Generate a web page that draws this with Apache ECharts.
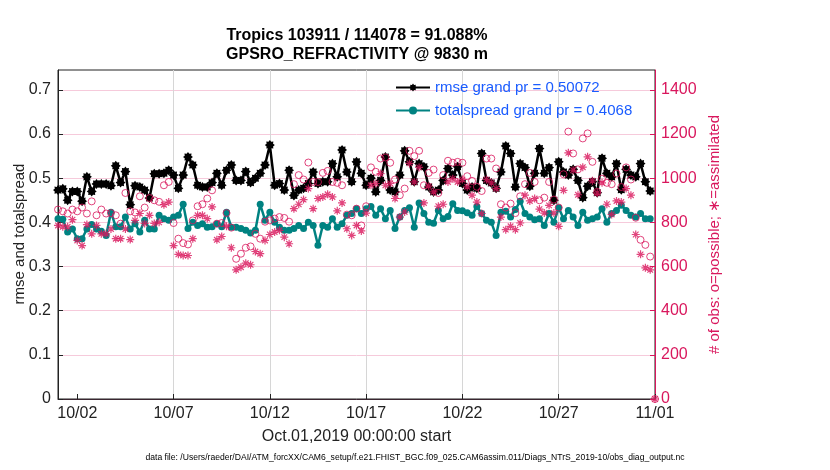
<!DOCTYPE html>
<html>
<head>
    <meta charset="utf-8">
    <script src="https://cdn.jsdelivr.net/npm/echarts@6/dist/echarts.min.js"></script>
    <style type="text/css">
        html, body { margin: 0; padding: 0; background: #fff; }
    </style>
</head>
<body>
    <div id="main" style="width: 830px;height:470px;"></div>
    <script type="text/javascript">
        // 6-hourly bins, Oct 1 00Z .. Nov 1 00Z
        var tickLabels = ['10/02', '10/07', '10/12', '10/17', '10/22', '10/27', '11/01'];

        var rmse = [
            0.473,0.476,0.450,0.470,0.470,0.448,0.503,0.470,0.487,0.487,
            0.487,0.483,0.528,0.490,0.515,0.440,0.483,0.480,0.473,0.455,
            0.510,0.510,0.511,0.518,0.507,0.477,0.507,0.548,0.530,0.484,
            0.480,0.480,0.490,0.511,0.484,0.518,0.530,0.495,0.495,0.515,
            0.490,0.500,0.511,0.530,0.575,0.484,0.488,0.473,0.518,0.461,
            0.473,0.477,0.488,0.514,0.488,0.492,0.492,0.533,0.503,0.564,
            0.514,0.492,0.537,0.511,0.484,0.500,0.469,0.495,0.548,0.473,
            0.469,0.507,0.562,0.537,0.492,0.533,0.526,0.480,0.469,0.473,
            0.495,0.522,0.507,0.526,0.488,0.473,0.480,0.477,0.556,0.495,
            0.489,0.477,0.514,0.573,0.556,0.480,0.533,0.524,0.482,0.511,
            0.567,0.511,0.524,0.450,0.537,0.514,0.507,0.520,0.495,0.456,
            0.482,0.492,0.467,0.545,0.511,0.503,0.533,0.474,0.520,0.507,
            0.503,0.533,0.492,0.471,null];

        var spread = [
            0.408,0.407,0.378,0.385,0.363,0.363,0.385,0.395,0.385,0.380,
            0.370,0.423,0.390,0.390,0.412,0.385,0.397,0.378,0.405,0.385,
            0.385,0.416,0.408,0.405,0.412,0.416,0.441,0.386,0.400,0.393,
            0.397,0.389,0.390,0.397,0.390,0.423,0.389,0.389,0.386,0.382,
            0.376,0.382,0.441,0.405,0.423,0.400,0.389,0.382,0.382,0.386,
            0.393,0.386,0.400,0.393,0.348,0.393,0.389,0.408,0.389,0.397,
            0.416,0.420,0.431,0.420,0.431,0.436,0.416,0.431,0.408,0.427,
            0.386,0.412,0.427,0.433,0.389,0.444,0.420,0.400,0.398,0.427,
            0.408,0.413,0.442,0.427,0.426,0.422,0.416,0.436,0.420,0.405,
            0.400,0.370,0.423,0.425,0.412,0.429,0.448,0.420,0.412,0.406,
            0.408,0.393,0.420,0.400,0.433,0.408,0.427,0.412,0.393,0.423,
            0.405,0.408,0.412,0.431,0.400,0.420,0.427,0.439,0.427,0.416,
            0.412,0.420,0.408,0.408,null];

        var possible = [
            858,850,840,858,850,867,840,895,832,858,
            840,842,832,794,933,850,845,918,867,910,
            900,893,968,983,797,726,706,700,809,873,
            882,908,945,794,797,842,776,635,658,685,
            691,748,726,803,809,817,824,820,803,973,
            1014,994,1071,983,983,1024,1033,983,979,968,
            835,832,862,786,873,1049,1029,1089,1094,1070,
            994,923,953,1124,1100,1124,968,1024,1039,933,
            1014,1079,1070,1074,1070,1009,988,961,942,1089,
            1089,1044,882,867,885,842,918,973,1024,983,
            900,912,983,903,867,1018,1211,1112,1040,1180,
            1203,1074,938,998,979,973,1021,960,1049,994,
            821,721,698,645,0];

        var assimilated = [
            786,780,780,812,718,695,790,748,786,748,
            748,770,726,726,770,722,809,840,795,832,
            795,800,880,892,695,655,650,650,726,832,
            832,817,870,721,736,782,685,585,597,615,
            608,668,658,718,745,756,764,733,703,862,
            882,903,953,862,908,915,927,915,852,888,
            771,741,786,761,842,968,976,1021,968,976,
            908,824,847,1067,983,1049,888,964,938,873,
            882,983,998,983,994,961,923,892,840,994,
            979,953,824,767,782,767,797,923,897,908,
            860,842,877,842,782,945,1115,1036,925,1050,
            1097,988,933,979,882,836,897,892,953,923,
            745,655,594,585,0];

        // category labels 'MM/DD HH'
        var times = [];
        for (var i = 0; i < rmse.length; i++) {
            var d = new Date(Date.UTC(2019, 9, 1) + i * 6 * 3600 * 1000);
            var mm = ('0' + (d.getUTCMonth() + 1)).slice(-2);
            var dd = ('0' + d.getUTCDate()).slice(-2);
            var hh = ('0' + d.getUTCHours()).slice(-2);
            times.push(mm + '/' + dd + ' ' + hh);
        }
        function isTick(idx, val) {
            return val.slice(6) === '00' && tickLabels.indexOf(val.slice(0, 5)) >= 0;
        }

        // fat 8-point star like matlab '*' with thick line
        var star = 'path://';
        for (var k = 0; k < 16; k++) {
            var a = k * Math.PI / 8 - Math.PI / 2;
            var r = (k % 2 === 0) ? 10 : 7;
            star += (k === 0 ? 'M' : 'L') + (10 + r * Math.cos(a)).toFixed(2) + ',' + (10 + r * Math.sin(a)).toFixed(2);
        }
        star += 'Z';
        var asterisk = 'path://M5,0L5,10M0,5L10,5M1.5,1.5L8.5,8.5M1.5,8.5L8.5,1.5';

        var red = '#d9175d';
        var font = 'Liberation Sans';
        var myChart = echarts.init(document.getElementById('main'));
        var option = {
            backgroundColor: '#fff',
            animation: false,
            textStyle: { fontFamily: font },
            grid: {
                left: 58, right: 175, top: 70, bottom: 71,
                outerBoundsMode: 'none', containLabel: false,
                show: true, borderColor: '#222', borderWidth: 1, backgroundColor: 'transparent'
            },
            legend: {
                orient: 'vertical',
                left: 395,
                top: 80,
                itemWidth: 34,
                itemHeight: 10,
                itemGap: 8,
                padding: 0,
                textStyle: { color: '#1a5cff', fontSize: 15, fontFamily: font },
                data: ['rmse grand pr = 0.50072', 'totalspread grand pr = 0.4068']
            },
            xAxis: {
                type: 'category',
                data: times,
                boundaryGap: false,
                name: 'Oct.01,2019 00:00:00 start',
                nameLocation: 'middle',
                nameGap: 30,
                nameTextStyle: { fontSize: 16, color: '#222', fontFamily: font },
                axisLine: { lineStyle: { color: '#3a2630', width: 1 } },
                axisTick: { inside: true, length: 5, interval: isTick, lineStyle: { color: '#222' } },
                axisLabel: {
                    interval: isTick, color: '#222', fontSize: 16, margin: 7,
                    formatter: function (v) { return v.slice(0, 5); }
                },
                splitLine: { show: true, interval: isTick, showMinLine: false, showMaxLine: false, lineStyle: { color: '#d6d6d6', width: 1 } }
            },
            yAxis: [{
                type: 'value',
                min: 0, max: 0.745, interval: 0.1,
                position: 'left',
                axisLine: { show: true, lineStyle: { color: '#222' } },
                axisTick: { show: true, inside: true, length: 5, lineStyle: { color: '#222' } },
                axisLabel: {
                    color: '#222', fontSize: 16, margin: 7, showMaxLabel: false,
                    formatter: function (v) { return v === 0 ? '0' : v.toFixed(1); }
                },
                splitLine: { show: false }
            }, {
                type: 'value',
                min: 0, max: 1490, interval: 200,
                position: 'right',
                name: '# of obs: o=possible; \u2217=assimilated',
                nameLocation: 'middle',
                nameRotate: 90,
                nameGap: 41,
                nameTextStyle: { fontSize: 15, color: red, fontFamily: font },
                axisLine: { show: true, lineStyle: { color: red } },
                axisTick: { show: true, inside: true, length: 5, lineStyle: { color: red } },
                axisLabel: {
                    color: red, fontSize: 16, margin: 6, showMaxLabel: false,
                    formatter: function (v) { return String(v); }
                },
                splitLine: { show: true, showMinLine: false, showMaxLine: false, lineStyle: { color: '#f6cadb', width: 1 } }
            }],
            series: [{
                name: 'rmse grand pr = 0.50072',
                type: 'line',
                yAxisIndex: 0,
                data: rmse,
                symbol: star,
                symbolSize: 10,
                showSymbol: true,
                showAllSymbol: true,
                color: '#000',
                lineStyle: { color: '#000', width: 2.5 },
                itemStyle: { color: '#000' },
                z: 3
            }, {
                name: 'totalspread grand pr = 0.4068',
                type: 'line',
                yAxisIndex: 0,
                data: spread,
                symbol: 'circle',
                symbolSize: 7,
                showSymbol: true,
                showAllSymbol: true,
                color: '#008281',
                lineStyle: { color: '#008281', width: 2.5 },
                itemStyle: { color: '#008281' },
                z: 3
            }, {
                name: 'possible',
                type: 'scatter',
                yAxisIndex: 1,
                data: possible,
                symbol: 'circle',
                symbolSize: 7,
                itemStyle: { color: 'transparent', borderColor: red, borderWidth: 1 },
                z: 4
            }, {
                name: 'assimilated',
                type: 'scatter',
                yAxisIndex: 1,
                data: assimilated,
                symbol: asterisk,
                symbolSize: 8,
                itemStyle: { color: 'transparent', borderColor: red, borderWidth: 1.2 },
                z: 4
            }],
            graphic: [{
                type: 'text', x: 357, y: 28,
                style: { text: 'Tropics 103911 / 114078 = 91.088%', fill: '#000', font: 'bold 16px ' + font, textAlign: 'center' }
            }, {
                type: 'text', x: 357, y: 47,
                style: { text: 'GPSRO_REFRACTIVITY @ 9830 m', fill: '#000', font: 'bold 16px ' + font, textAlign: 'center' }
            }, {
                // left axis title, rotated
                type: 'text', x: 20, y: 234, rotation: Math.PI / 2,
                style: { text: 'rmse and totalspread', fill: '#222', font: '15px ' + font, textAlign: 'center', textVerticalAlign: 'middle' }
            }, {
                type: 'text', x: 415, y: 453,
                style: { text: 'data file: /Users/raeder/DAI/ATM_forcXX/CAM6_setup/f.e21.FHIST_BGC.f09_025.CAM6assim.011/Diags_NTrS_2019-10/obs_diag_output.nc', fill: '#000', font: '8.6px ' + font, textAlign: 'center' }
            }]
        };
        myChart.setOption(option);
    </script>
</body>
</html>
